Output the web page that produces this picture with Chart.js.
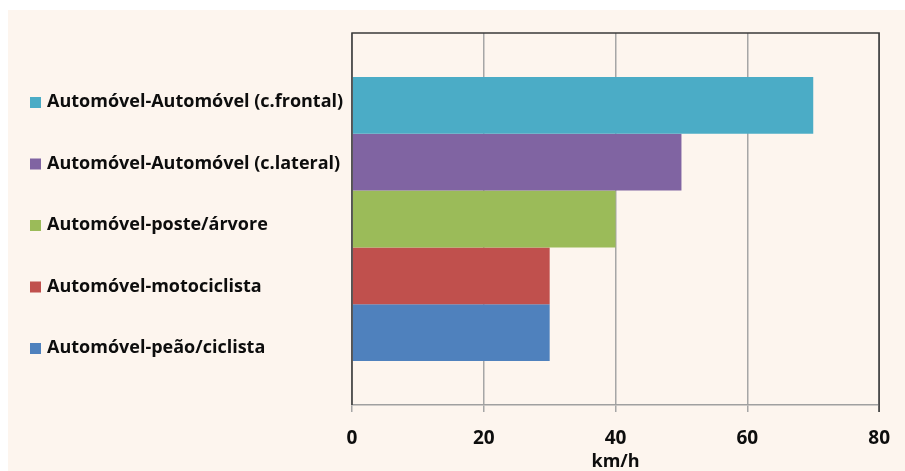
<!DOCTYPE html>
<html>
<head>
<meta charset="utf-8">
<script src="https://cdn.jsdelivr.net/npm/chart.js@4"></script>
<style>
  html, body { margin: 0; padding: 0; background: #ffffff; }
  #wrap { width: 905px; height: 471px; }
</style>
</head>
<body>
<div id="wrap"><canvas id="speedChart" width="905" height="471"></canvas></div>
<script>
// tipos de colisão e velocidade de impacto (km/h)
const collisionTypes = [
  "Automóvel-Automóvel (c.frontal)",
  "Automóvel-Automóvel (c.lateral)",
  "Automóvel-poste/árvore",
  "Automóvel-motociclista",
  "Automóvel-peão/ciclista"
];
const speedValues = [70, 50, 40, 30, 30];
const barColors = ["#4bacc6", "#8064a2", "#9bbb59", "#c0504d", "#4f81bd"];
const xTicks = [0, 20, 40, 60, 80];
const axisTitle = "km/h";

const FONT = "'Open Sans'";
const TEXT_COLOR = "#0d0d0d";

// painel creme atrás do gráfico
const panelBackground = {
  id: "panelBackground",
  beforeDraw(chart) {
    const ctx = chart.ctx;
    ctx.save();
    ctx.fillStyle = "#fdf5ee";
    ctx.fillRect(8, 10, chart.width - 8, chart.height - 10);
    ctx.restore();
  }
};

// moldura escura (topo, esquerda, direita)
const plotFrame = {
  id: "plotFrame",
  afterDatasetsDraw(chart) {
    const { ctx, chartArea: a } = chart;
    ctx.save();
    ctx.strokeStyle = "#3a3a3a";
    ctx.lineWidth = 1.5;
    ctx.beginPath();
    ctx.moveTo(a.left, a.bottom);
    ctx.lineTo(a.left, a.top);
    ctx.lineTo(a.right, a.top);
    ctx.lineTo(a.right, a.bottom + 7);
    ctx.stroke();
    ctx.restore();
  }
};

// legenda à esquerda, estilo Excel
const sideLegend = {
  id: "sideLegend",
  afterDraw(chart) {
    const { ctx, chartArea: a } = chart;
    const step = 61.5;
    const mid = (a.top + a.bottom) / 2 + 6;
    const n = chart.data.datasets.length;
    ctx.save();
    ctx.font = "bold 18px " + FONT;
    ctx.textBaseline = "middle";
    chart.data.datasets.forEach((ds, i) => {
      const y = mid + (i - (n - 1) / 2) * step;
      ctx.fillStyle = ds.backgroundColor;
      ctx.fillRect(30, y - 5, 11, 11);
      ctx.fillStyle = TEXT_COLOR;
      ctx.fillText(ds.label, 47, y);
    });
    ctx.restore();
  }
};

const datasets = collisionTypes.map((name, i) => ({
  label: name,
  data: [speedValues[i]],
  backgroundColor: barColors[i],
  borderWidth: 0,
  barPercentage: 1,
  categoryPercentage: 0.763
}));

const ctx = document.getElementById("speedChart").getContext("2d");
const speedChart = new Chart(ctx, {
  type: "bar",
  data: { labels: [""], datasets: datasets },
  options: {
    indexAxis: "y",
    responsive: false,
    animation: false,
    layout: { padding: { left: 352, right: 25, top: 33, bottom: 0 } },
    plugins: {
      legend: { display: false },
      tooltip: { enabled: false }
    },
    scales: {
      x: {
        min: 0,
        max: 80,
        afterBuildTicks(scale) {
          scale.ticks = xTicks.map(v => ({ value: v }));
        },
        afterFit(scale) {
          scale.height = 66;
        },
        grid: {
          color: "#a6a6a6",
          lineWidth: 1.5,
          tickLength: 7,
          drawTicks: true
        },
        border: { display: true, color: "#a0a0a0", width: 1.5 },
        ticks: {
          padding: 15,
          color: TEXT_COLOR,
          font: { family: FONT, size: 19, weight: "bold" }
        },
        title: {
          display: true,
          text: axisTitle,
          color: TEXT_COLOR,
          padding: { top: 0, bottom: 0 },
          font: { family: FONT, size: 18, weight: "bold", lineHeight: 1 }
        }
      },
      y: {
        display: false
      }
    }
  },
  plugins: [panelBackground, plotFrame, sideLegend]
});
</script>
</body>
</html>
